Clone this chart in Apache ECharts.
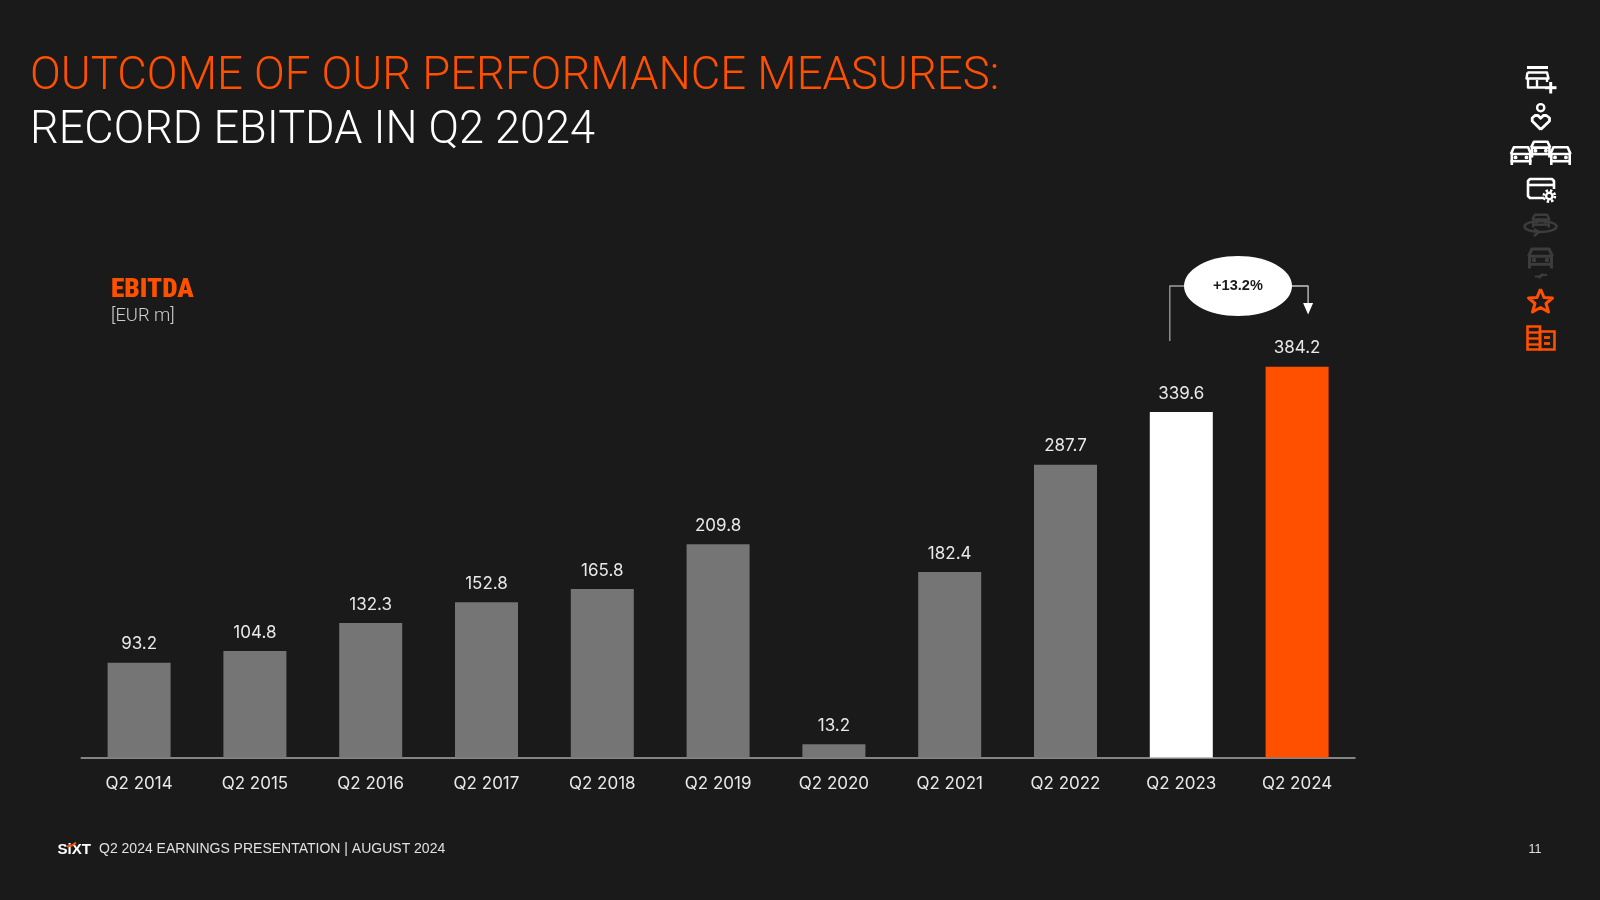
<!DOCTYPE html>
<html><head><meta charset="utf-8">
<style>html,body{margin:0;padding:0;background:#1a1a1a}#c{width:1600px;height:900px}</style>
<script src="https://cdn.jsdelivr.net/npm/echarts@6/dist/echarts.min.js"></script></head>
<body><div id="c"></div>
<script>
const categories=['Q2 2014','Q2 2015','Q2 2016','Q2 2017','Q2 2018','Q2 2019','Q2 2020','Q2 2021','Q2 2022','Q2 2023','Q2 2024'];
const ebitda=[93.2,104.8,132.3,152.8,165.8,209.8,13.2,182.4,287.7,339.6,384.2];
const barColors=['#757575','#757575','#757575','#757575','#757575','#757575','#757575','#757575','#757575','#ffffff','#ff5000'];
const titleLine1='OUTCOME OF OUR PERFORMANCE MEASURES:';
const titleLine2='RECORD EBITDA IN Q2 2024';
const footer='Q2 2024 EARNINGS PRESENTATION | AUGUST 2024';
const pageNo='11';
const growth='+13.2%';
const ORANGE='#ff5000', WHITE='#ffffff', DIM='#3c3c3c', BG='#1a1a1a';
const chart=echarts.init(document.getElementById('c'));
const TXT='#e9e9e9';
function txt(x,y,text,font,fill,extra,align){return Object.assign({type:'text',x,y,style:{text,font,fill,align:align||'left',verticalAlign:'middle'}},extra||{});}
function ln(pts,stroke,w){return {type:'polyline',shape:{points:pts},style:{stroke,lineWidth:w,fill:'none',lineJoin:'round',lineCap:'butt'}};}
function rect(x,y,w,h,stroke,lw,r){return {type:'rect',shape:{x,y,width:w,height:h,r:r||0},style:{stroke,lineWidth:lw,fill:'none'}};}
function circ(cx,cy,r,stroke,lw,dash){return {type:'circle',shape:{cx,cy,r},style:{stroke,lineWidth:lw,fill:'none',lineDash:dash||null}};}
function dot(cx,cy,r,c){return {type:'circle',shape:{cx,cy,r},style:{fill:c}};}
function car(cx,top,w,h,c,lw){
  const l=cx-w/2,r=cx+w/2,b=top+h;
  return [ln([[l+w*0.02,top+h*0.42],[l+w*0.16,top+lw/2],[r-w*0.16,top+lw/2],[r-w*0.02,top+h*0.42]],c,lw),
    ln([[l+lw/2,b],[l+lw/2,top+h*0.42],[r-lw/2,top+h*0.42],[r-lw/2,b]],c,lw),
    ln([[l,b-h*0.2],[r,b-h*0.2]],c,lw),
    dot(l+w*0.24,top+h*0.6,lw*0.75,c),dot(r-w*0.24,top+h*0.6,lw*0.75,c)];
}
function icons(){
  const a=[];
  a.push(ln([[1527,67.5],[1548,67.5]],WHITE,3));
  a.push(ln([[1527.5,72.5],[1547,72.5],[1548.5,78.5],[1526.5,78.5],[1527.5,72.5]],WHITE,2.4));
  a.push(ln([[1528,79],[1528,87.5],[1545,87.5]],WHITE,2.4));
  a.push(ln([[1547,79],[1547,82]],WHITE,2.4));
  a.push(ln([[1537,80],[1537,87]],WHITE,2.4));
  a.push(ln([[1545,87.7],[1556.5,87.7]],WHITE,3),ln([[1550.7,82],[1550.7,93.5]],WHITE,3));
  a.push(circ(1540.7,107.7,3.6,WHITE,2.4));
  a.push(ln([[1540.7,129.5],[1532.2,121],[1532.2,118],[1535,115.5],[1538,115.5],[1540.7,118.3],[1543.4,115.5],[1546.4,115.5],[1549.5,118],[1549.5,121],[1540.7,129.5]],WHITE,2.8));
  a.push(...car(1521,146,21,19,WHITE,2.6),...car(1560.5,146,21,19,WHITE,2.6));
  a.push(...car(1540.7,140.5,20,17,WHITE,2.6));
  a.push(ln([[1544,198],[1530,198],[1528,196],[1528,181],[1530,179],[1552,179],[1554,181],[1554,189]],WHITE,2.6));
  a.push(ln([[1528,185],[1554,185]],WHITE,2.6));
  a.push(circ(1549.3,196,5.6,WHITE,2.6,[2.4,2]));
  a.push(circ(1549.3,196,3.2,WHITE,2.4));
  a.push(...car(1541,213.5,18,14,DIM,2.4));
  a.push({type:'ellipse',shape:{cx:1540.5,cy:226.5,rx:16,ry:5.5},style:{stroke:DIM,lineWidth:2.6,fill:'none'}});
  a.push(ln([[1534,229],[1539,232],[1534,236]],DIM,2.4));
  a.push(...car(1540.5,247.5,25,21,DIM,3));
  a.push(ln([[1535,276.5],[1541,276.5],[1543,273.5]],DIM,2),ln([[1547,275],[1541,275],[1539,278.5]],DIM,2));
  a.push(ln([[1540.5,289],[1544,297.5],[1552.5,298],[1546,303.5],[1548.5,312],[1540.5,307.5],[1532.5,312],[1535,303.5],[1528.5,298],[1537,297.5],[1540.5,289]],ORANGE,3));
  a.push(rect(1527.5,326.5,12.5,23,ORANGE,2.6));
  a.push(rect(1540,331.5,14.5,18,ORANGE,2.6));
  a.push(ln([[1527,332.5],[1540,332.5]],ORANGE,2.4),ln([[1527,338.5],[1540,338.5]],ORANGE,2.4),ln([[1527,344.5],[1540,344.5]],ORANGE,2.4));
  a.push(ln([[1544,337.5],[1550,337.5]],ORANGE,2.8),ln([[1544,343.5],[1550,343.5]],ORANGE,2.8));
  return a;
}
function logo(){
  return [
   txt(57.5,849.5,'SiXT','900 14.5px "Liberation Sans"',WHITE,{scaleX:1.04}),
   ln([[67,846.5],[72,845.5],[76,842.5]],ORANGE,2)
  ];
}
chart.setOption({
  backgroundColor:BG,
  animation:false,
  grid:{left:81.2,right:245,top:350.6,height:407},
  xAxis:{type:'category',data:categories,
    axisLine:{lineStyle:{color:'#a8a8a8',width:1.5}},axisTick:{show:false},
    axisLabel:{color:TXT,fontFamily:'Inter',fontSize:17,margin:18}},
  yAxis:{type:'value',min:0,max:400,show:false,splitLine:{show:false}},
  series:[{type:'bar',data:ebitda.map((v,i)=>({value:v,itemStyle:{color:barColors[i]}})),
    barWidth:63,
    label:{show:true,position:'top',distance:10,color:TXT,fontFamily:'Inter',fontSize:17,formatter:p=>p.value.toFixed(1)}}]
});
const p23=chart.convertToPixel({xAxisIndex:0,yAxisIndex:0},[9,339.6]);
const p24=chart.convertToPixel({xAxisIndex:0,yAxisIndex:0},[10,384.2]);
const bx1=p23[0]-11.5,bx2=p24[0]+11,by=286;
chart.setOption({graphic:[
  txt(30,77,titleLine1,'300 47px Roboto',ORANGE,{scaleX:0.968}),
  txt(30,131,titleLine2,'300 47px Roboto',WHITE,{scaleX:0.96}),
  txt(111,290,'EBITDA','900 26px "Roboto Condensed","Liberation Sans Narrow",Roboto',ORANGE,{scaleX:1.05}),
  txt(111,316,'[EUR m]','300 18px Roboto','#cfcfcf',{scaleX:1.02}),
  ln([[bx1,341],[bx1,by],[bx1+30,by]],'#a0a0a0',1.3),
  ln([[bx2-30,by],[bx2,by],[bx2,305]],'#c8c8c8',1.3),
  {type:'polygon',shape:{points:[[bx2-5,303],[bx2+5,303],[bx2,314.5]]},style:{fill:WHITE}},
  {type:'ellipse',shape:{cx:1238,cy:286,rx:54,ry:30},style:{fill:WHITE}},
  txt(1238,286,growth,'700 15px "Liberation Sans"',BG,{scaleX:0.97},'center'),
  ...logo(),
  txt(99,849.5,footer,'400 14px "Liberation Sans"','#e0e0e0'),
  txt(1535,849.5,pageNo,'400 12.5px "Liberation Sans"','#e0e0e0',null,'center'),
  ...icons()
]});
</script></body></html>
